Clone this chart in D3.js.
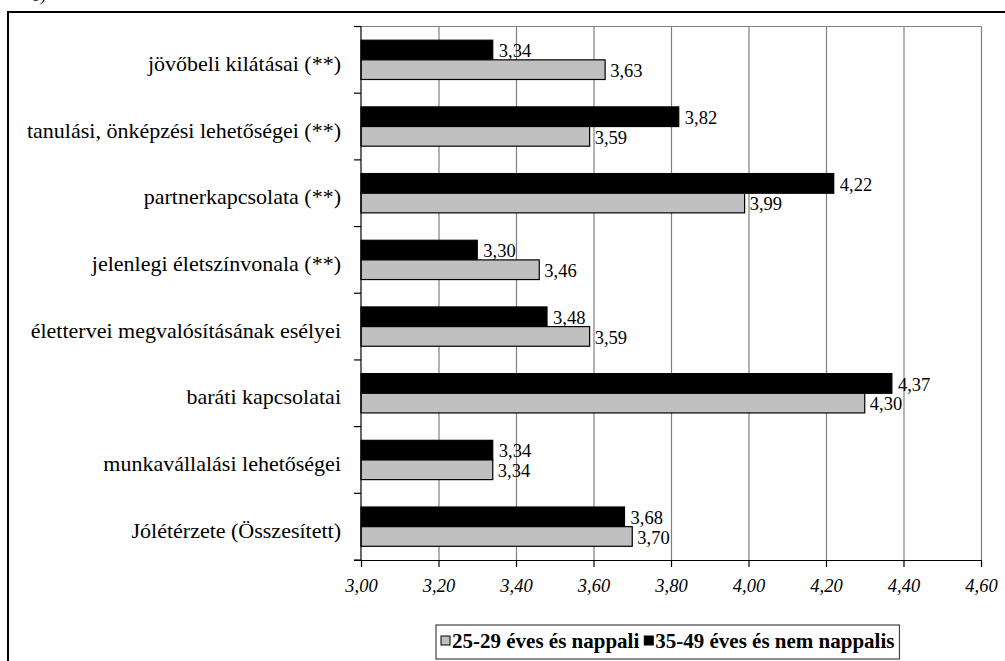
<!DOCTYPE html>
<html><head><meta charset="utf-8">
<script src="https://cdn.jsdelivr.net/npm/d3@7"></script>
<style>
html,body{margin:0;padding:0;background:#fff;}
svg{display:block;}
svg text{font-family:"Liberation Serif","Times New Roman",serif;}
</style></head>
<body>
<svg id="c" width="1005" height="661"></svg>
<script>
// ---- data ----
const categories = [
  "jövőbeli kilátásai (**)",
  "tanulási, önképzési lehetőségei (**)",
  "partnerkapcsolata (**)",
  "jelenlegi életszínvonala (**)",
  "élettervei megvalósításának esélyei",
  "baráti kapcsolatai",
  "munkavállalási lehetőségei",
  "Jólétérzete (Összesített)"
];
const seriesNames = ["25-29 éves és nappali", "35-49 éves és nem nappalis"];
const young = [3.63, 3.59, 3.99, 3.46, 3.59, 4.30, 3.34, 3.70];
const older = [3.34, 3.82, 4.22, 3.30, 3.48, 4.37, 3.34, 3.68];
const xTicks = [3.00, 3.20, 3.40, 3.60, 3.80, 4.00, 4.20, 4.40, 4.60];

// ---- layout ----
const svg = d3.select("#c");
const L = 361, R = 981, T = 26.5, B = 560;
const x = d3.scaleLinear().domain([3.0, 4.6]).range([L, R]);
const yCat = d3.scaleBand().domain(categories).range([T, B]).padding(0);
const ySer = d3.scaleBand().domain(["older", "young"]).range([0, yCat.bandwidth()]).paddingInner(0).paddingOuter(0.697);
const fmt = v => v.toFixed(2).replace(".", ",");

// outer frame
svg.append("path").attr("d", `M8,661 V12 H1005`).attr("fill", "none").attr("stroke", "#000").attr("stroke-width", 2);
// cut-off panel label (as in the reference)
svg.append("text").attr("x", 46).attr("y", 1).attr("text-anchor", "end").attr("font-size", 16).attr("font-style","italic").text("b)");

// gridlines
const grid = svg.append("g").attr("transform", `translate(0,${B})`)
  .call(d3.axisBottom(x).tickValues(xTicks.slice(1)).tickSize(-(B - T)).tickFormat(""));
grid.select(".domain").remove();
grid.selectAll("line").attr("stroke", "#808080").attr("stroke-width", 1.2);
svg.append("line").attr("x1", L).attr("x2", R).attr("y1", T).attr("y2", T).attr("stroke", "#808080").attr("stroke-width", 1.2);

// data rows
const rows = categories.map((c, i) => ({c, young: young[i], older: older[i]}));
const g = svg.append("g");
rows.forEach(r => {
  const y0 = yCat(r.c);
  [["older", "#000"], ["young", "#c0c0c0"]].forEach(([k, col]) => {
    const yy = y0 + ySer(k);
    g.append("rect").attr("x", x(3.0)).attr("y", yy)
      .attr("width", x(r[k]) - x(3.0)).attr("height", ySer.bandwidth())
      .attr("fill", col).attr("stroke", "#000").attr("stroke-width", 1.2);
    g.append("text").attr("x", x(r[k]) + (k === "older" ? 6 : 5)).attr("y", yy + ySer.bandwidth() - 2.5)
      .attr("font-size", 18.5).attr("fill", "#000").text(fmt(r[k]));
  });
  g.append("text").attr("x", 341).attr("y", y0 + yCat.bandwidth() / 2 + 11)
    .attr("text-anchor", "end").attr("font-size", 22).text(r.c);
});

// x axis
const xa = svg.append("g").attr("transform", `translate(0,${B})`)
  .call(d3.axisBottom(x).tickValues(xTicks).tickSize(7).tickSizeOuter(0).tickPadding(12).tickFormat(fmt));
xa.select(".domain").attr("stroke", "#000").attr("stroke-width", 1.2).attr("d", `M354,0.5H${R}`);
xa.selectAll("line").attr("stroke", "#000").attr("stroke-width", 1.2);
xa.selectAll("text").attr("font-size", 18.5).attr("font-style", "italic").attr("font-family", "Liberation Serif").attr("fill", "#000");

// y axis
svg.append("line").attr("x1", L).attr("x2", L).attr("y1", T).attr("y2", B).attr("stroke", "#000").attr("stroke-width", 1.2);
const bounds = categories.map(c => yCat(c)).concat([B]);
svg.selectAll(".yt").data(bounds).enter().append("line")
  .attr("x1", 354).attr("x2", L).attr("y1", d => d).attr("y2", d => d)
  .attr("stroke", "#000").attr("stroke-width", 1.2);

// legend
const lg = svg.append("g");
const box = lg.append("rect").attr("y", 625).attr("height", 34).attr("fill", "#fff").attr("stroke", "#444").attr("stroke-width", 1.2);
const items = [[seriesNames[0], "#c0c0c0"], [seriesNames[1], "#000"]];
const parts = [];
items.forEach(([name, col]) => {
  const sw = lg.append("rect").attr("y", 636).attr("width", 9).attr("height", 9).attr("fill", col).attr("stroke", "#000").attr("stroke-width", 1);
  const t = lg.append("text").attr("y", 648).attr("font-size", 21).attr("font-weight", "bold").text(name);
  parts.push({sw, t});
});
let px = 441;
parts.forEach(p => {
  p.sw.attr("x", px);
  px += 11;
  p.t.attr("x", px);
  px += p.t.node().getComputedTextLength() + 5;
});
box.attr("x", 436).attr("width", px - 436);
</script>
</body></html>
